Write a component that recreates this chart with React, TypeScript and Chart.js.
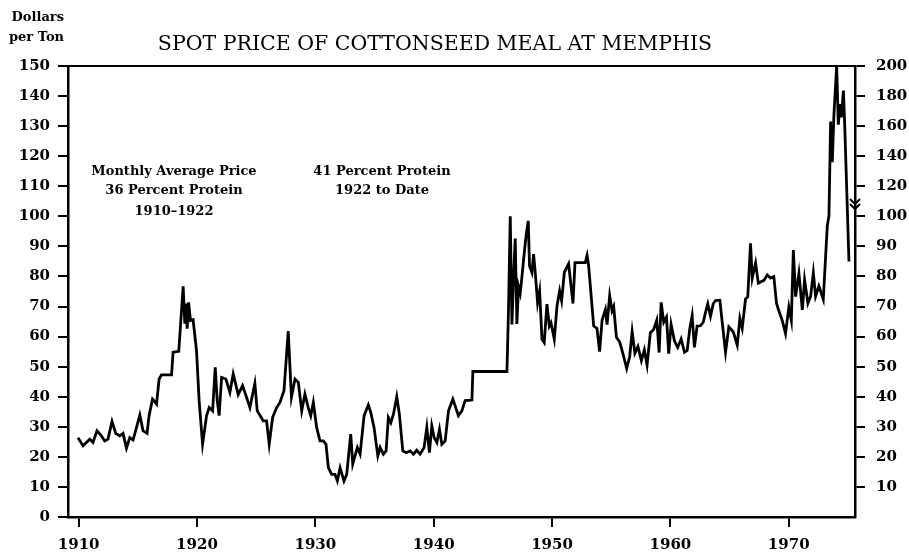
import React, { useEffect, useRef } from "react";
import { Chart, registerables } from "chart.js";

Chart.register(...registerables);

// ---- data ----
const YEARS: number[] = [
  1909.94, 1910.37, 1910.94, 1911.21, 1911.55, 1911.92, 1912.2, 1912.48, 1912.82, 1913.13,
  1913.47, 1913.75, 1914.04, 1914.32, 1914.6, 1915.17, 1915.44, 1915.78, 1915.95, 1916.24,
  1916.58, 1916.8, 1917.0, 1917.85, 1917.98, 1918.46, 1918.83, 1918.97, 1919.06, 1919.17,
  1919.29, 1919.45, 1919.67, 1919.96, 1920.18, 1920.47, 1920.81, 1921.03, 1921.32, 1921.54,
  1921.71, 1921.87, 1922.08, 1922.44, 1922.78, 1923.06, 1923.48, 1923.85, 1924.19, 1924.47,
  1924.89, 1925.09, 1925.6, 1925.88, 1926.1, 1926.39, 1926.73, 1927.01, 1927.35, 1927.71,
  1927.98, 1928.28, 1928.56, 1928.85, 1929.12, 1929.4, 1929.61, 1929.83, 1930.11, 1930.39,
  1930.67, 1930.9, 1931.1, 1931.38, 1931.66, 1931.86, 1932.09, 1932.42, 1932.65, 1932.99,
  1933.16, 1933.55, 1933.78, 1934.12, 1934.48, 1934.68, 1934.96, 1935.28, 1935.47, 1935.75,
  1935.98, 1936.17, 1936.38, 1936.6, 1936.88, 1937.1, 1937.39, 1937.67, 1938.01, 1938.29,
  1938.57, 1938.85, 1939.19, 1939.42, 1939.64, 1939.84, 1940.04, 1940.27, 1940.49, 1940.69,
  1940.97, 1941.25, 1941.62, 1942.09, 1942.38, 1942.66, 1943.23, 1943.31, 1946.19, 1946.32,
  1946.47, 1946.61, 1946.75, 1946.89, 1947.03, 1947.17, 1947.31, 1947.46, 1947.65, 1947.82,
  1947.99, 1948.1, 1948.3, 1948.44, 1948.58, 1948.78, 1948.95, 1949.15, 1949.34, 1949.57,
  1949.77, 1949.91, 1950.19, 1950.42, 1950.64, 1950.81, 1951.04, 1951.4, 1951.77, 1951.94,
  1952.81, 1952.96, 1953.09, 1953.52, 1953.8, 1954.02, 1954.23, 1954.51, 1954.65, 1954.87,
  1955.07, 1955.21, 1955.44, 1955.72, 1956.0, 1956.31, 1956.56, 1956.77, 1957.0, 1957.26,
  1957.55, 1957.8, 1958.03, 1958.31, 1958.59, 1958.85, 1959.05, 1959.22, 1959.44, 1959.67,
  1959.86, 1960.06, 1960.34, 1960.62, 1960.91, 1961.19, 1961.42, 1961.64, 1961.84, 1962.03,
  1962.26, 1962.54, 1962.77, 1962.97, 1963.16, 1963.39, 1963.62, 1963.81, 1964.18, 1964.38,
  1964.66, 1964.94, 1965.31, 1965.65, 1965.87, 1966.07, 1966.35, 1966.54, 1966.77, 1966.92,
  1967.2, 1967.43, 1967.9, 1968.19, 1968.46, 1968.74, 1968.97, 1969.17, 1969.45, 1969.73,
  1970.01, 1970.22, 1970.39, 1970.58, 1970.86, 1971.15, 1971.34, 1971.62, 1971.85, 1972.08,
  1972.27, 1972.55, 1972.92, 1973.12, 1973.26, 1973.4, 1973.54, 1973.68, 1973.82, 1974.05,
  1974.19, 1974.33, 1974.45, 1974.62, 1974.73, 1975.09,
];

const PRICES: number[] = [
  26.4, 23.7, 25.9, 24.8, 28.7, 27.0, 25.3, 25.9, 31.8, 27.8,
  27.0, 27.8, 22.9, 26.4, 25.6, 33.9, 28.7, 27.8, 33.7, 39.2,
  37.6, 45.9, 47.3, 47.3, 54.8, 55.1, 76.7, 64.3, 71.0, 62.6,
  71.4, 65.3, 65.6, 55.3, 38.7, 24.2, 33.7, 36.4, 35.3, 49.8,
  38.7, 33.7, 46.4, 45.9, 41.4, 47.6, 40.7, 43.7, 39.8, 36.4,
  44.4, 35.3, 32.0, 32.0, 24.2, 33.1, 36.4, 38.1, 42.0, 61.8,
  39.8, 45.9, 44.8, 35.3, 40.9, 36.4, 33.7, 38.1, 29.8, 25.3,
  25.3, 24.2, 16.4, 14.2, 14.2, 12.0, 16.4, 12.0, 14.2, 27.6,
  17.6, 23.1, 20.9, 33.7, 37.3, 34.8, 29.8, 20.3, 23.1, 20.9,
  22.0, 33.1, 31.4, 34.2, 40.0, 34.2, 22.0, 21.4, 22.0, 20.9,
  22.2, 20.9, 23.1, 29.8, 21.4, 30.3, 26.4, 24.8, 29.2, 24.2,
  25.3, 35.3, 39.2, 33.7, 35.3, 38.7, 38.9, 48.4, 48.4, 68.7,
  100.0, 64.0, 79.7, 92.6, 64.2, 76.6, 74.4, 80.0, 87.8, 94.0,
  98.5, 83.5, 81.3, 87.4, 81.3, 71.3, 75.2, 59.1, 58.0, 70.8,
  63.5, 64.6, 59.1, 70.2, 75.2, 71.9, 81.4, 84.2, 71.0, 84.6,
  84.6, 87.0, 83.7, 63.5, 62.7, 55.0, 65.5, 69.0, 64.0, 73.6,
  68.6, 70.0, 59.8, 58.2, 54.2, 49.4, 53.3, 61.7, 54.5, 56.7,
  52.0, 55.6, 50.5, 61.3, 62.4, 65.5, 54.7, 71.4, 64.8, 66.5,
  54.3, 64.1, 58.6, 56.4, 59.2, 54.8, 55.4, 62.6, 67.0, 56.4,
  63.5, 63.6, 64.7, 68.1, 70.9, 66.8, 70.9, 72.0, 72.1, 64.8,
  54.8, 63.2, 61.6, 57.2, 66.1, 62.8, 72.5, 73.2, 91.0, 79.5,
  84.5, 77.8, 78.7, 80.5, 79.5, 80.0, 71.0, 68.5, 65.4, 61.0,
  69.8, 65.4, 88.8, 73.3, 81.1, 68.9, 78.9, 71.1, 73.4, 81.2,
  73.4, 76.8, 72.4, 86.9, 96.9, 100.4, 163.0, 136.0, 167.6, 200.0,
  161.0, 174.6, 165.8, 183.6, 161.0, 85.0,
];

const X_TICKS: number[] = [1910, 1920, 1930, 1940, 1950, 1960, 1970];
const LEFT_TICKS: number[] = [0, 10, 20, 30, 40, 50, 60, 70, 80, 90, 100, 110, 120, 130, 140, 150];
// right axis: 10..100 on the same scale, above the break compressed by half (labels 120..200)
const RIGHT_TICK_LABELS: number[] = [10, 20, 30, 40, 50, 60, 70, 80, 90, 100, 120, 140, 160, 180, 200];
const BREAK_VALUE = 100;

const TITLE = "SPOT PRICE OF COTTONSEED MEAL AT MEMPHIS";
const UNIT_LINES = ["Dollars", "per Ton"];
const NOTE_LEFT = ["Monthly Average Price", "36 Percent Protein", "1910\u20131922"];
const NOTE_RIGHT = ["41 Percent Protein", "1922 to Date"];

const toPlot = (v: number) => (v <= BREAK_VALUE ? v : BREAK_VALUE + (v - BREAK_VALUE) / 2);

const SERIF = "'DejaVu Serif', serif";

const textPlugin = {
  id: "textPlugin",
  afterDraw(chart: any) {
    const ctx = chart.ctx as CanvasRenderingContext2D;
    const a = chart.chartArea;
    ctx.save();
    // frame top line
    ctx.strokeStyle = "#000";
    ctx.lineWidth = 2;
    ctx.beginPath();
    ctx.moveTo(a.left, a.top);
    ctx.lineTo(a.right, a.top);
    ctx.stroke();

    ctx.fillStyle = "#000";
    ctx.textBaseline = "alphabetic";
    // title
    ctx.font = `20.5px ${SERIF}`;
    ctx.textAlign = "center";
    ctx.fillText(TITLE, 435, 50);
    // unit label
    ctx.font = `bold 13px ${SERIF}`;
    ctx.textAlign = "right";
    ctx.fillText(UNIT_LINES[0], 64, 21);
    ctx.fillText(UNIT_LINES[1], 64, 41);
    // notes
    ctx.font = `bold 13px ${SERIF}`;
    ctx.textAlign = "center";
    const ly = [175, 194, 215];
    NOTE_LEFT.forEach((t, i) => ctx.fillText(t, 174, ly[i]));
    const ry = [175, 194];
    NOTE_RIGHT.forEach((t, i) => ctx.fillText(t, 382, ry[i]));

    // axis-break chevrons on right axis
    ctx.lineWidth = 2;
    ctx.beginPath();
    for (let k = 0; k < 2; k++) {
      const y0 = 199 + k * 5;
      ctx.moveTo(a.right - 5, y0);
      ctx.lineTo(a.right, y0 + 5);
      ctx.lineTo(a.right + 5, y0);
    }
    ctx.stroke();
    ctx.restore();
  },
};

export default function App() {
  const ref = useRef<HTMLCanvasElement | null>(null);

  useEffect(() => {
    if (!ref.current) return;
    const tickFont = { family: SERIF, size: 15, weight: "bold" as const };
    const chart = new Chart(ref.current, {
      type: "line",
      data: {
        datasets: [
          {
            data: YEARS.map((x, i) => ({ x, y: toPlot(PRICES[i]) })),
            borderColor: "#000",
            borderWidth: 2.8,
            pointRadius: 0,
            tension: 0,
            fill: false,
          },
        ],
      },
      options: {
        animation: false,
        responsive: false,
        maintainAspectRatio: false,
        layout: { padding: { top: 66, left: 0, right: 0, bottom: 0 } },
        plugins: { legend: { display: false }, tooltip: { enabled: false }, title: { display: false } },
        scales: {
          x: {
            type: "linear",
            position: "bottom",
            min: 1909.1,
            max: 1975.6,
            afterBuildTicks: (s: any) => {
              s.ticks = X_TICKS.map((v) => ({ value: v }));
            },
            afterFit: (s: any) => {
              s.height = 42;
            },
            ticks: { font: tickFont, color: "#000", padding: 9, maxRotation: 0, autoSkip: false, callback: (v: any) => String(v) },
            grid: { drawOnChartArea: false, drawTicks: true, tickLength: 10, color: "#000", lineWidth: 2 },
            border: { display: true, color: "#000", width: 2.5 },
          },
          y: {
            type: "linear",
            position: "left",
            min: 0,
            max: 150,
            afterBuildTicks: (s: any) => {
              s.ticks = LEFT_TICKS.map((v) => ({ value: v }));
            },
            afterFit: (s: any) => {
              s.width = 68;
            },
            ticks: { font: tickFont, color: "#000", padding: 8, autoSkip: false, callback: (v: any) => String(v) },
            grid: { drawOnChartArea: false, drawTicks: true, tickLength: 10, color: "#000", lineWidth: 2 },
            border: { display: true, color: "#000", width: 2.5 },
          },
          y2: {
            type: "linear",
            position: "right",
            min: 0,
            max: 150,
            afterBuildTicks: (s: any) => {
              s.ticks = RIGHT_TICK_LABELS.map((v) => ({ value: toPlot(v) }));
            },
            afterFit: (s: any) => {
              s.width = 54;
            },
            ticks: {
              font: tickFont,
              color: "#000",
              padding: 11,
              autoSkip: false,
              callback: (_v: any, i: number) => String(RIGHT_TICK_LABELS[i]),
            },
            grid: { drawOnChartArea: false, drawTicks: true, tickLength: 10, color: "#000", lineWidth: 2 },
            border: { display: true, color: "#000", width: 2.5 },
          },
        },
      },
      plugins: [textPlugin],
    });
    return () => chart.destroy();
  }, []);

  return (
    <div style={{ position: "fixed", left: 0, top: 0, width: 909, height: 559, background: "#fff" }}>
      <canvas ref={ref} width={909} height={559} style={{ display: "block" }} />
    </div>
  );
}
